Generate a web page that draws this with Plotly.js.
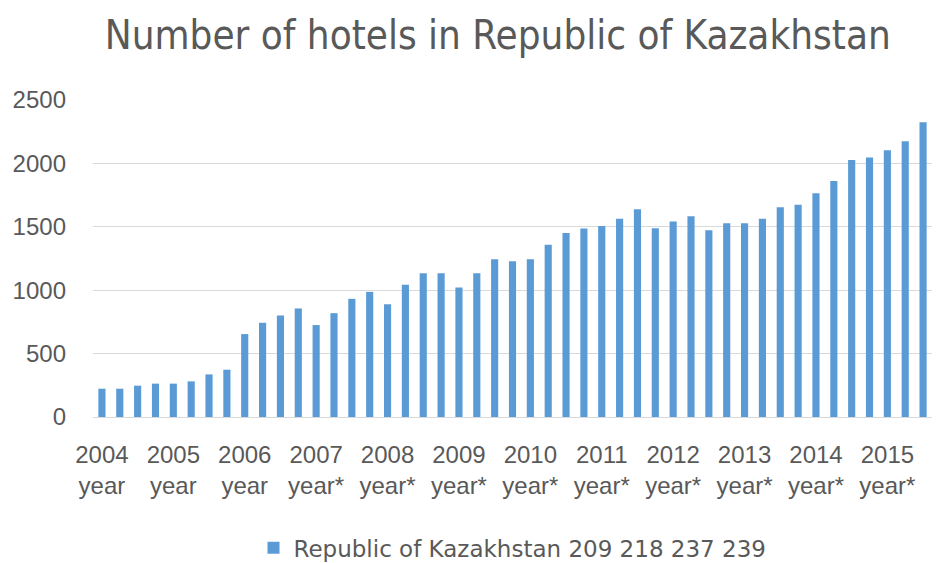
<!DOCTYPE html>
<html>
<head>
<meta charset="utf-8">
<script src="https://cdn.plot.ly/plotly-3.0.1.min.js"></script>
<style>html,body{margin:0;padding:0;background:#fff;}#chart{width:941px;height:563px;}</style>
</head>
<body>
<div id="chart"></div>
<script>
// Quarterly periods (47 bars; last year has 3 quarters)
var periods = [
  "2004 Q1","2004 Q2","2004 Q3","2004 Q4",
  "2005 Q1","2005 Q2","2005 Q3","2005 Q4",
  "2006 Q1","2006 Q2","2006 Q3","2006 Q4",
  "2007 Q1","2007 Q2","2007 Q3","2007 Q4",
  "2008 Q1","2008 Q2","2008 Q3","2008 Q4",
  "2009 Q1","2009 Q2","2009 Q3","2009 Q4",
  "2010 Q1","2010 Q2","2010 Q3","2010 Q4",
  "2011 Q1","2011 Q2","2011 Q3","2011 Q4",
  "2012 Q1","2012 Q2","2012 Q3","2012 Q4",
  "2013 Q1","2013 Q2","2013 Q3","2013 Q4",
  "2014 Q1","2014 Q2","2014 Q3","2014 Q4",
  "2015 Q1","2015 Q2","2015 Q3"
];
var hotels = [
  223, 223, 247, 263,
  263, 281, 336, 373,
  654, 743, 801, 856,
  725, 819, 932, 987,
  890, 1043, 1134, 1134,
  1022, 1134, 1245, 1229,
  1245, 1358, 1452, 1486,
  1507, 1563, 1639, 1489,
  1541, 1583, 1473, 1528,
  1528, 1563, 1654, 1673,
  1765, 1862, 2027, 2046,
  2103, 2174, 2324
];
var tickPeriods = ["2004 Q1","2005 Q1","2006 Q1","2007 Q1","2008 Q1","2009 Q1","2010 Q1","2011 Q1","2012 Q1","2013 Q1","2014 Q1","2015 Q1"];
var tickLabels = ["2004<br>year","2005<br>year","2006<br>year","2007<br>year*","2008<br>year*","2009<br>year*","2010<br>year*","2011<br>year*","2012<br>year*","2013<br>year*","2014<br>year*","2015<br>year*"];
var seriesName = "Republic of Kazakhstan 209 218 237 239";
var chartTitle = "Number of hotels in Republic of Kazakhstan";

var textColor = "#595959";
var tickFont = {family: "Liberation Sans, Arial, sans-serif", size: 24, color: textColor};

var data = [{
  type: "bar",
  x: periods,
  y: hotels,
  name: seriesName,
  marker: {color: "#5b9bd5"},
  showlegend: true
}];

var layout = {
  width: 941,
  height: 563,
  margin: {l: 93, r: 9, t: 100, b: 146},
  paper_bgcolor: "#ffffff",
  plot_bgcolor: "#ffffff",
  bargap: 0.6,
  title: {
    text: chartTitle,
    font: {family: "Liberation Sans Narrow, DejaVu Sans Condensed, sans-serif", size: 40, color: textColor},
    x: 0.529, xanchor: "center", xref: "container",
    y: 0.937, yanchor: "middle", yref: "container"
  },
  xaxis: {
    type: "category",
    tickmode: "array",
    tickvals: tickPeriods,
    ticktext: tickLabels,
    tickangle: 0,
    ticks: "",
    showgrid: false,
    showline: true,
    linecolor: "#d9d9d9",
    linewidth: 1,
    tickfont: tickFont,
    ticklabelstandoff: 16,
    automargin: false
  },
  yaxis: {
    range: [0, 2500],
    dtick: 500,
    tick0: 0,
    showgrid: true,
    gridcolor: "#d9d9d9",
    gridwidth: 1,
    zeroline: false,
    showline: false,
    ticks: "",
    ticklabelstandoff: 26,
    tickfont: tickFont,
    automargin: false
  },
  legend: {
    orientation: "h",
    x: 0.5, xanchor: "center",
    y: 0.027, yanchor: "middle", yref: "container",
    font: {family: "DejaVu Sans, sans-serif", size: 23, color: textColor}
  }
};

Plotly.newPlot("chart", data, layout, {displayModeBar: false, staticPlot: true});
</script>
</body>
</html>
